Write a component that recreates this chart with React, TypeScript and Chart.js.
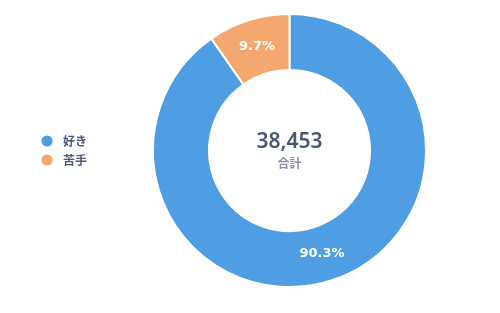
import React, { useEffect, useRef } from "react";
import { Chart, registerables } from "chart.js";

Chart.register(...registerables);

const categories = ["好き", "苦手"];
const values = [34723, 3730];
const colors = ["#4f9ee3", "#f4a86f"];
const totalLabel = "合計";

const FONT = "'Noto Sans', 'Noto Sans CJK JP', sans-serif";
const JP = "'Noto Sans CJK JP', sans-serif";
const LBL = "'DejaVu Sans', sans-serif";

function dotImage(color: string) {
  const c = document.createElement("canvas");
  c.width = 20;
  c.height = 12;
  const g = c.getContext("2d")!;
  g.fillStyle = color;
  g.beginPath();
  g.arc(6, 6, 5.6, 0, Math.PI * 2);
  g.fill();
  return c;
}

const labelPlugin = {
  id: "sliceLabels",
  afterDatasetsDraw(chart: any) {
    const { ctx } = chart;
    const meta = chart.getDatasetMeta(0);
    const data = chart.data.datasets[0].data as number[];
    const total = data.reduce((a, b) => a + b, 0);
    ctx.save();
    ctx.fillStyle = "#ffffff";
    ctx.font = `bold 13px ${LBL}`;
    ctx.textAlign = "center";
    ctx.textBaseline = "middle";
    meta.data.forEach((arc: any, i: number) => {
      const p = arc.tooltipPosition();
      const pct = ((data[i] / total) * 100).toFixed(1) + "%";
      ctx.fillText(pct, p.x, p.y);
    });
    const first = meta.data[0];
    const cx = first.x;
    const cy = first.y;
    ctx.fillStyle = "#4b5672";
    ctx.font = `600 21px ${FONT}`;
    ctx.fillText(total.toLocaleString("en-US"), cx, cy - 8);
    ctx.fillStyle = "#8a90a2";
    ctx.font = `bold 12px ${JP}`;
    ctx.fillText(totalLabel, cx, cy + 13);
    ctx.restore();
  },
};

export default function App() {
  const ref = useRef<HTMLCanvasElement>(null);
  useEffect(() => {
    document.body.style.margin = "0";
    const dots = colors.map(dotImage);
    const baseGen = (Chart as any).overrides.doughnut.plugins.legend.labels.generateLabels;
    const chart = new Chart(ref.current!, {
      type: "doughnut",
      data: {
        labels: categories,
        datasets: [
          {
            data: values,
            backgroundColor: colors,
            borderColor: "#ffffff",
            borderWidth: 2,
            hoverOffset: 0,
          },
        ],
      },
      options: {
        animation: false,
        responsive: false,
        cutout: "59%",
        layout: { padding: { top: 13, bottom: 25, left: 38, right: 18 } },
        plugins: {
          tooltip: { enabled: false },
          legend: {
            position: "left",
            labels: {
              usePointStyle: true,
              boxWidth: 12,
              boxHeight: 9,
              padding: 7,
              color: "#4b5672",
              font: { family: JP, size: 12, weight: "bold" },
              generateLabels: (c: any) =>
                baseGen(c).map((item: any, i: number) => ({ ...item, pointStyle: dots[i] })),
            },
          },
        },
      },
      plugins: [labelPlugin],
    });
    return () => chart.destroy();
  }, []);
  return (
    <div style={{ width: 500, height: 313 }}>
      <canvas ref={ref} width={500} height={313} />
    </div>
  );
}
